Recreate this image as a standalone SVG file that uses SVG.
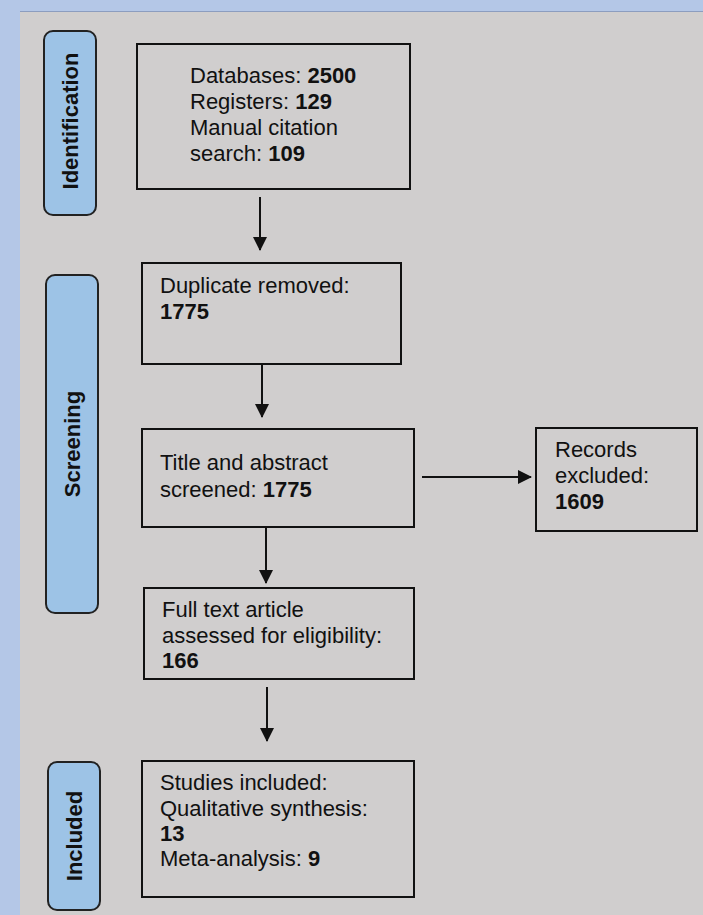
<svg xmlns="http://www.w3.org/2000/svg" width="703" height="915" viewBox="0 0 703 915">
<defs>
<style>
.box{fill:#d0cece;stroke:#111;stroke-width:2}
.pill{fill:#9dc3e6;stroke:#222;stroke-width:2}
.t{font-family:"Liberation Sans",Arial,sans-serif;font-size:22px;fill:#111}
.b{font-weight:bold}
.lbl{font-family:"Liberation Sans",Arial,sans-serif;font-size:22px;font-weight:bold;fill:#111;text-anchor:middle}
.con{stroke:#111;stroke-width:2;fill:none}
</style>
<marker id="ah" viewBox="0 0 14 14" refX="13" refY="7" markerWidth="14" markerHeight="14" markerUnits="userSpaceOnUse" orient="auto">
<path d="M0,0 L14,7 L0,14 Z" fill="#111"/>
</marker>
</defs>
<rect x="0" y="0" width="703" height="915" fill="#b4c7e7"/>
<rect x="20" y="11" width="683" height="904" fill="#d0cece"/>
<line x1="20" y1="11.5" x2="703" y2="11.5" stroke="#8c9dbf" stroke-width="1"/>

<g id="stage-identification">
<rect class="pill" x="44" y="31" width="52" height="184" rx="9"/>
<text class="lbl" transform="translate(78,121) rotate(-90)">Identification</text>
</g>
<g id="stage-screening">
<rect class="pill" x="46" y="275" width="52" height="338" rx="9"/>
<text class="lbl" transform="translate(80,444) rotate(-90)">Screening</text>
</g>
<g id="stage-included">
<rect class="pill" x="48" y="762" width="52" height="148" rx="9"/>
<text class="lbl" transform="translate(82,836) rotate(-90)">Included</text>
</g>

<g id="node-identified">
<rect class="box" x="137" y="44" width="273" height="145"/>
<text class="t" x="190" y="83">Databases: <tspan class="b">2500</tspan></text>
<text class="t" x="190" y="109">Registers: <tspan class="b">129</tspan></text>
<text class="t" x="190" y="135">Manual citation</text>
<text class="t" x="190" y="161">search: <tspan class="b">109</tspan></text>
</g>
<g id="node-duplicates">
<rect class="box" x="142" y="263" width="259" height="101"/>
<text class="t" x="160" y="293">Duplicate removed:</text>
<text class="t b" x="160" y="319">1775</text>
</g>
<g id="node-screened">
<rect class="box" x="142" y="429" width="272" height="98"/>
<text class="t" x="160" y="470">Title and abstract</text>
<text class="t" x="160" y="497">screened: <tspan class="b">1775</tspan></text>
</g>
<g id="node-excluded">
<rect class="box" x="536" y="428" width="161" height="103"/>
<text class="t" x="555" y="457">Records</text>
<text class="t" x="555" y="483">excluded:</text>
<text class="t b" x="555" y="509">1609</text>
</g>
<g id="node-fulltext">
<rect class="box" x="144" y="588" width="270" height="91"/>
<text class="t" x="162" y="617">Full text article</text>
<text class="t" x="162" y="643">assessed for eligibility:</text>
<text class="t b" x="162" y="668">166</text>
</g>
<g id="node-included">
<rect class="box" x="142" y="761" width="272" height="136"/>
<text class="t" x="160" y="790">Studies included:</text>
<text class="t" x="160" y="816">Qualitative synthesis:</text>
<text class="t b" x="160" y="841">13</text>
<text class="t" x="160" y="866">Meta-analysis: <tspan class="b">9</tspan></text>
</g>

<g id="connectors">
<line class="con" x1="260" y1="197" x2="260" y2="250" marker-end="url(#ah)"/>
<line class="con" x1="262" y1="365" x2="262" y2="417" marker-end="url(#ah)"/>
<line class="con" x1="422" y1="477" x2="531" y2="477" marker-end="url(#ah)"/>
<line class="con" x1="266" y1="528" x2="266" y2="583" marker-end="url(#ah)"/>
<line class="con" x1="267" y1="687" x2="267" y2="741" marker-end="url(#ah)"/>
</g>
</svg>
